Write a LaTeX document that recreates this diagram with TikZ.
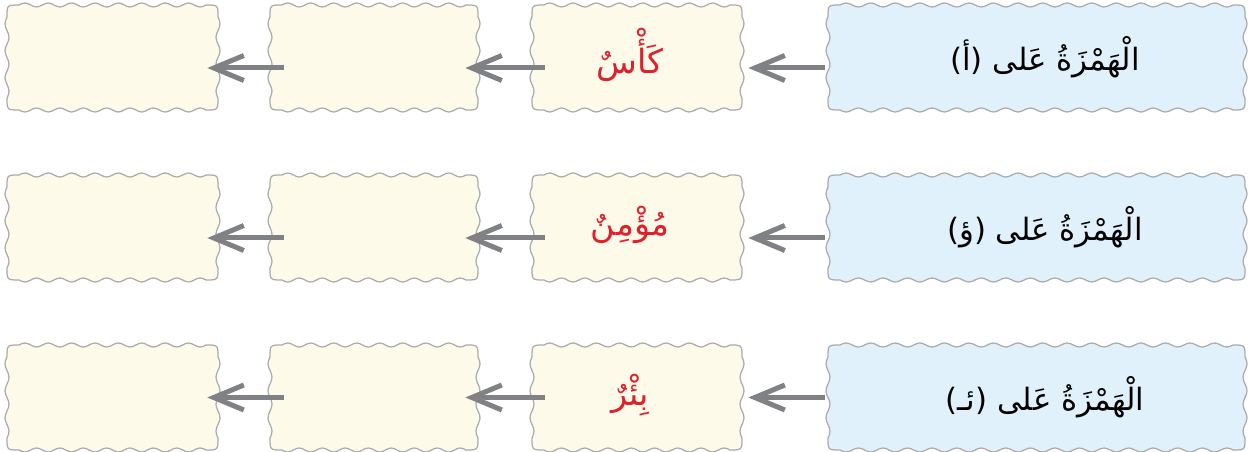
\documentclass[tikz,border=0pt]{standalone}
\usepackage{fontspec}
\usetikzlibrary{arrows.meta,calc}
\TeXXeTstate=1
\newfontfamily\arabicfont[Script=Arabic]{DejaVu Sans}
\definecolor{creamfill}{HTML}{FDFAEA}
\definecolor{bluefill}{HTML}{E1F1FB}
\definecolor{wavegray}{HTML}{ABABAB}
\definecolor{arrowgray}{HTML}{808184}
\definecolor{wordred}{HTML}{E0202A}
\tikzset{
  slot/.style={inner sep=0pt, minimum height=2.1cm},
  waveline/.style={draw=wavegray, line width=0.025cm},
  ruletext/.style={font=\arabicfont\fontsize{17.5}{20}\selectfont, text=black},
  wordtext/.style={font=\arabicfont\fontsize{19}{22}\selectfont, text=wordred},
  flowarrow/.style={draw=arrowgray, line width=0.1cm,
    -{Straight Barb[length=0.6cm, width=0.5cm]}}
}
% wavy rounded box: #1 x1, #2 y1, #3 x2, #4 y2, #5 fill colour
\newcommand\wbox[5]{%
  \pgfmathsetmacro\wxa{#1+12}\pgfmathsetmacro\wxb{#3-12}%
  \pgfmathsetmacro\wya{#2+12}\pgfmathsetmacro\wyb{#4-12}%
  \pgfmathsetmacro\wnx{max(1,round((\wxb-\wxa)/24))}%
  \pgfmathsetmacro\wny{max(1,round((\wyb-\wya)/24))}%
  \pgfmathsetmacro\wkx{360*\wnx/(\wxb-\wxa)}%
  \pgfmathsetmacro\wky{360*\wny/(\wyb-\wya)}%
  \pgfmathtruncatemacro\wsx{8*\wnx+1}%
  \pgfmathtruncatemacro\wsy{8*\wny+1}%
  \draw[waveline, fill=#5]
    plot[domain=\wxa:\wxb, samples=\wsx, smooth] (\x, {#2-2*sin((\x-\wxa)*\wkx)})
    .. controls (#3,#2) .. (#3,\wya)
    -- plot[domain=\wya:\wyb, samples=\wsy, smooth] ({#3+2*sin((\x-\wya)*\wky)}, \x)
    .. controls (#3,#4) .. (\wxb,#4)
    -- plot[domain=\wxb:\wxa, samples=\wsx, smooth] (\x, {#4+2*sin((\x-\wxa)*\wkx)})
    .. controls (#1,#4) .. (#1,\wyb)
    -- plot[domain=\wyb:\wya, samples=\wsy, smooth] ({#1-2*sin((\x-\wya)*\wky)}, \x)
    .. controls (#1,#2) .. (\wxa,#2) -- cycle;}
\begin{document}
\begin{tikzpicture}[x=0.02cm,y=-0.02cm]
\useasboundingbox (0,0) rectangle (1250,452);
% wavy boxes
\wbox{7}{5}{218}{110}{creamfill}
\wbox{270}{5}{478}{110}{creamfill}
\wbox{532}{5}{742}{110}{creamfill}
\wbox{828}{5}{1245}{110}{bluefill}
\wbox{7}{175}{218}{280}{creamfill}
\wbox{270}{175}{478}{280}{creamfill}
\wbox{532}{175}{742}{280}{creamfill}
\wbox{828}{175}{1245}{280}{bluefill}
\wbox{7}{345}{218}{450}{creamfill}
\wbox{270}{345}{478}{450}{creamfill}
\wbox{532}{345}{742}{450}{creamfill}
\wbox{828}{345}{1245}{450}{bluefill}
% box slots (names for the connectors)
\node[slot, minimum width=4.22cm] (a1) at (112.5,57.5) {};
\node[slot, minimum width=4.16cm] (a2) at (374,57.5) {};
\node[slot, minimum width=4.2cm] (a3) at (637,57.5) {};
\node[slot, minimum width=8.34cm] (a4) at (1036.5,57.5) {};
\node[slot, minimum width=4.22cm] (b1) at (112.5,227.5) {};
\node[slot, minimum width=4.16cm] (b2) at (374,227.5) {};
\node[slot, minimum width=4.2cm] (b3) at (637,227.5) {};
\node[slot, minimum width=8.34cm] (b4) at (1036.5,227.5) {};
\node[slot, minimum width=4.22cm] (c1) at (112.5,397.5) {};
\node[slot, minimum width=4.16cm] (c2) at (374,397.5) {};
\node[slot, minimum width=4.2cm] (c3) at (637,397.5) {};
\node[slot, minimum width=8.34cm] (c4) at (1036.5,397.5) {};
% texts
\node[ruletext] (t1) at (1045,57) {\beginR الْهَمْزَةُ عَلى (أ)\endR};
\node[wordtext] (w1) at (630,55) {\beginR كَأْسٌ\endR};
\node[ruletext] (t2) at (1045,227) {\beginR الْهَمْزَةُ عَلى (ؤ)\endR};
\node[wordtext] (w2) at (630,225) {\beginR مُؤْمِنٌ\endR};
\node[ruletext] (t3) at (1045,397) {\beginR الْهَمْزَةُ عَلى (ئـ)\endR};
\node[wordtext] (w3) at (630,395) {\beginR بِئْرٌ\endR};
% arrows
\draw[flowarrow] ($(a4.west)+(-3,10.5)$) -- ($(a3.east)+(6,10.5)$);
\draw[flowarrow] ($(a3.west)+(13,10.5)$) -- ($(a2.east)+(-13,10.5)$);
\draw[flowarrow] ($(a2.west)+(14,10.5)$) -- ($(a1.east)+(-11,10.5)$);
\draw[flowarrow] ($(b4.west)+(-3,10.5)$) -- ($(b3.east)+(6,10.5)$);
\draw[flowarrow] ($(b3.west)+(13,10.5)$) -- ($(b2.east)+(-13,10.5)$);
\draw[flowarrow] ($(b2.west)+(14,10.5)$) -- ($(b1.east)+(-11,10.5)$);
\draw[flowarrow] ($(c4.west)+(-3,0)$) -- ($(c3.east)+(6,0)$);
\draw[flowarrow] ($(c3.west)+(13,0)$) -- ($(c2.east)+(-13,0)$);
\draw[flowarrow] ($(c2.west)+(14,0)$) -- ($(c1.east)+(-11,0)$);
\end{tikzpicture}
\end{document}
